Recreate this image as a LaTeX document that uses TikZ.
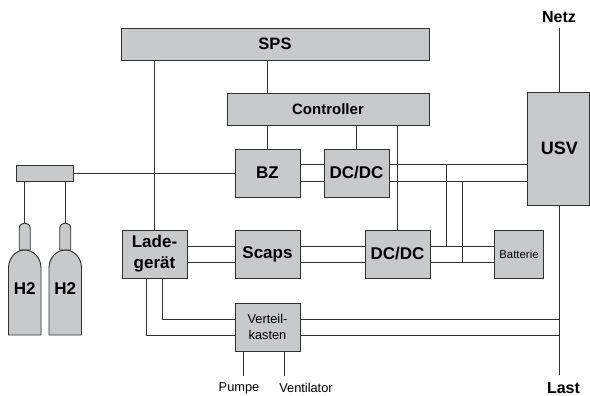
\documentclass[tikz,border=0pt]{standalone}
\usepackage{fontspec}
\setmainfont{Liberation Sans}
\definecolor{boxfill}{HTML}{C8C9CB}
\definecolor{ink}{HTML}{303030}
\tikzset{
  blockbox/.style={draw=ink,fill=boxfill,line width=0.95pt,outer sep=0pt,inner sep=0pt,align=center,font=\fontsize{17}{19}\selectfont\bfseries},
  wire/.style={draw=ink,line width=0.85pt},
  plainlabel/.style={inner sep=0pt,font=\fontsize{12.8}{15}\selectfont,text=black},
  boldlabel/.style={inner sep=0pt,font=\fontsize{16}{18}\selectfont\bfseries,text=black},
  bottlepart/.style={draw=ink,fill=boxfill,line width=0.95pt,line join=round},
  bottletext/.style={inner sep=0pt,font=\fontsize{17}{19}\selectfont\bfseries}
}
\begin{document}
\begin{tikzpicture}[x=1pt,y=-1pt]
\useasboundingbox (0,0) rectangle (590,396);
\node[blockbox,minimum width=308pt,minimum height=32pt] (sps) at (275,44) {\fontsize{16.5}{19}\selectfont SPS};
\node[blockbox,minimum width=202pt,minimum height=32pt] (ctrl) at (328,109) {\fontsize{15}{17}\selectfont Controller};
\node[blockbox,minimum width=65pt,minimum height=48pt] (bz) at (267.5,173) {BZ};
\node[blockbox,minimum width=65pt,minimum height=48pt] (dc1) at (356.5,173) {DC/DC};
\node[blockbox,minimum width=62pt,minimum height=113pt] (usv) at (558.5,148.5) {};
\node[inner sep=0pt,font=\fontsize{18}{20}\selectfont\bfseries] (usvt) at (559.5,148) {USV};
\node[blockbox,minimum width=49pt,minimum height=48pt] (batt) at (519,254) {\fontsize{11.4}{13}\selectfont\mdseries Batterie};
\node[blockbox,minimum width=65pt,minimum height=48pt] (dc2) at (397.5,254) {DC/DC};
\node[blockbox,minimum width=65pt,minimum height=48pt] (scaps) at (267.5,254) {Scaps};
\node[blockbox,minimum width=65pt,minimum height=48pt,font=\fontsize{17}{21}\selectfont\bfseries] (lade) at (154.5,254) {\raisebox{-1.5pt}{Lade-}\\\raisebox{-1.5pt}{gerät}};
\node[blockbox,minimum width=65pt,minimum height=48pt,font=\fontsize{12.8}{16.5}\selectfont] (vert) at (267.5,327) {Verteil-\\kasten};
\node[blockbox,minimum width=56.5pt,minimum height=16pt] (vent) at (44.75,173) {};
% labels
\node[boldlabel] (netz) at (559,17) {Netz};
\node[boldlabel] (last) at (563.5,388) {Last};
\node[plainlabel] (pumpe) at (239,388) {Pumpe};
\node[plainlabel] (venti) at (306,388) {Ventilator};
% free ends
\coordinate (pumpeend) at (243.5,376);
\coordinate (ventiend) at (284,376);
\coordinate (netzend) at (559,28);
\coordinate (lastend) at (559,374.5);
\coordinate (bus) at (559,0);
\coordinate (ja) at (446,0);
\coordinate (jb) at (462,0);
\coordinate (neckA) at (24.5,223);
\coordinate (neckB) at (65,223);
% bottles
\foreach \cx in {24.75,65.25}{
  \path[bottlepart]
    (\cx-5.5,250) -- (\cx-5.5,228.5)
    .. controls (\cx-5.5,225) and (\cx-3,223) .. (\cx,223)
    .. controls (\cx+3,223) and (\cx+5.5,225) .. (\cx+5.5,228.5)
    -- (\cx+5.5,250) -- cycle;
  \path[bottlepart]
    (\cx-16.25,335) -- (\cx-16.25,268)
    .. controls (\cx-16.25,258) and (\cx-9,250) .. (\cx,250)
    .. controls (\cx+9,250) and (\cx+16.25,258) .. (\cx+16.25,268)
    -- (\cx+16.25,335) -- cycle;
}
\node[bottletext] (h2a) at (24.75,289) {H2};
\node[bottletext] (h2b) at (65.25,289) {H2};
% connectors
\draw[wire] (vent.south -| neckA) -- (neckA);
\draw[wire] (vent.south -| neckB) -- (neckB);
\draw[wire] (vent.east) -- (bz.west);
\draw[wire] (sps.south -| lade.north) -- (lade.north);
\draw[wire] (sps.south -| bz.north) -- (ctrl.north -| bz.north);
\draw[wire] (ctrl.south -| bz.north) -- (bz.north);
\draw[wire] (ctrl.south -| dc1.north) -- (dc1.north);
\draw[wire] (ctrl.south -| dc2.north) -- (dc2.north);
\foreach \y in {164.7,181}{
  \draw[wire] (bz.east |- 0,\y) -- (dc1.west |- 0,\y);
  \draw[wire] (dc1.east |- 0,\y) -- (usv.west |- 0,\y);
}
\foreach \y in {246,262}{
  \draw[wire] (lade.east |- 0,\y) -- (scaps.west |- 0,\y);
  \draw[wire] (scaps.east |- 0,\y) -- (dc2.west |- 0,\y);
  \draw[wire] (dc2.east |- 0,\y) -- (batt.west |- 0,\y);
}
\draw[wire] (ja |- 0,164.7) -- (ja |- 0,246);
\draw[wire] (jb |- 0,181) -- (jb |- 0,262);
\draw[wire] (lade.south -| 146,0) |- (vert.west |- 0,335);
\draw[wire] (lade.south -| 162.5,0) |- (vert.west |- 0,319);
\draw[wire] (vert.east |- 0,319) -- (bus |- 0,319);
\draw[wire] (vert.east |- 0,335) -- (bus |- 0,335);
\draw[wire] (vert.south -| pumpeend) -- (pumpeend);
\draw[wire] (vert.south -| ventiend) -- (ventiend);
\draw[wire] (netzend) -- (usv.north -| netzend);
\draw[wire] (usv.south -| lastend) -- (lastend);
\end{tikzpicture}
\end{document}
